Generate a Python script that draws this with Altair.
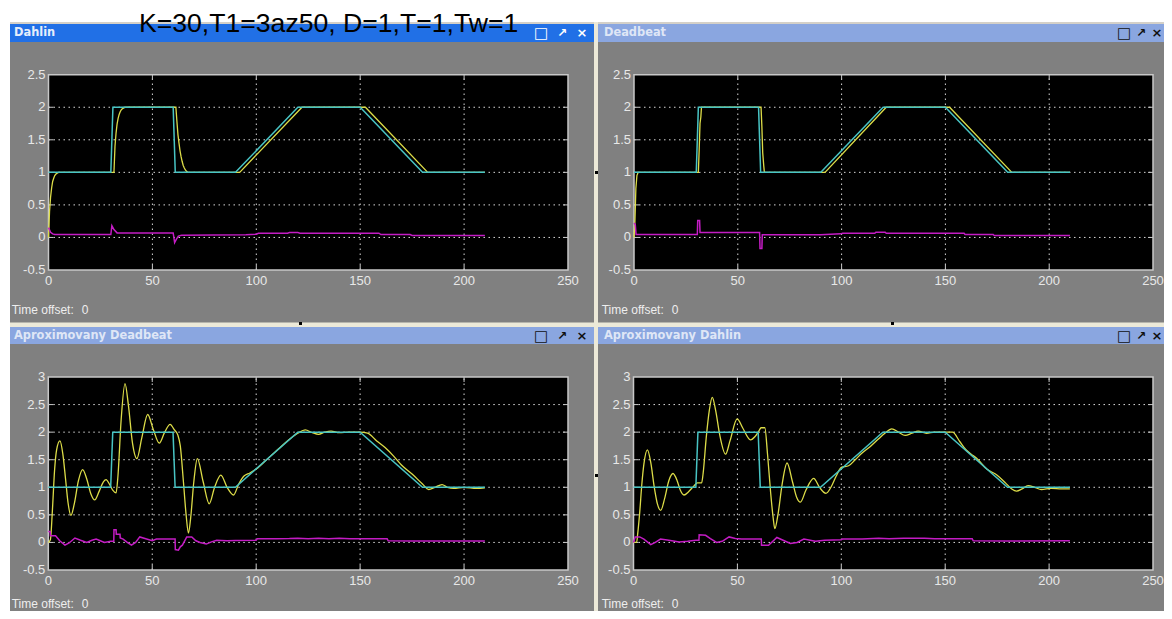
import altair as alt
import pandas as pd

# ---------------- text ----------------
MAIN_TITLE = "K=30,T1=3az50, D=1,T=1,Tw=1"
PANEL_TITLES = ["Dahlin", "Deadbeat", "Aproximovany Deadbeat", "Aproximovany Dahlin"]
TIME_OFFSET_LABEL = "Time offset:"
TIME_OFFSET_VALUE = "0"

# ---------------- ticks ----------------
X_TICKS = [0, 50, 100, 150, 200, 250]
X_LABELS = ["0", "50", "100", "150", "200", "250"]
Y_TICKS_TOP = [-0.5, 0, 0.5, 1, 1.5, 2, 2.5]
Y_LABELS_TOP = ["-0.5", "0", "0.5", "1", "1.5", "2", "2.5"]
Y_TICKS_BOT = [-0.5, 0, 0.5, 1, 1.5, 2, 2.5, 3]
Y_LABELS_BOT = ["-0.5", "0", "0.5", "1", "1.5", "2", "2.5", "3"]

# ---------------- setpoint (cyan), same in all scopes ----------------
W_T = [0, 30, 31, 60, 61, 90, 120, 150, 180, 210]
W_V = [1, 1, 2, 2, 1, 1, 2, 2, 1, 1]

# ---------------- Dahlin ----------------
DAHLIN_Y_T = [0, 0.5, 1, 1.5, 2, 2.5, 3, 3.5, 4, 4.5, 5,
              31.5, 32, 32.5, 33, 33.5, 34, 34.5, 35, 35.5, 36, 36.5, 37,
              61.3, 61.8, 62.3, 62.8, 63.3, 63.8, 64.3, 64.8, 65.3, 65.8, 66.3, 67,
              92, 122, 152.5, 182.5, 210]
DAHLIN_Y_V = [0, 0.4, 0.62, 0.76, 0.86, 0.91, 0.95, 0.97, 0.985, 0.995, 1,
              1, 1.4, 1.6, 1.74, 1.83, 1.89, 1.93, 1.96, 1.975, 1.985, 1.995, 2,
              2, 1.78, 1.58, 1.45, 1.33, 1.24, 1.17, 1.11, 1.07, 1.04, 1.02, 1,
              1, 2, 2, 1, 1]
DAHLIN_U_T = [0, 1, 2, 3, 30, 30.5, 31.5, 33, 60, 60.7, 61.5, 62.5, 64, 95, 100, 101,
              115, 116, 120, 121, 150, 159, 160, 174, 175, 210]
DAHLIN_U_V = [0.15, 0.08, 0.055, 0.045, 0.045, 0.18, 0.12, 0.07, 0.07, -0.08, -0.03, 0.02, 0.035,
              0.04, 0.05, 0.065, 0.065, 0.075, 0.075, 0.065, 0.065, 0.065, 0.045, 0.045, 0.03, 0.03]

# ---------------- Deadbeat ----------------
DEADBEAT_Y_T = [0, 0.4, 0.9, 1.4, 2, 31, 31.4, 31.8, 32.2, 32.5, 61.2, 61.6, 62, 62.5, 62.8,
                92, 121.5, 152, 182, 210]
DEADBEAT_Y_V = [0, 0.2, 0.75, 0.95, 1, 1, 1.35, 1.75, 1.85, 2, 2, 1.7, 1.3, 1.1, 1,
                1, 2, 2, 1, 1]
DEADBEAT_U_T = [0, 0.6, 1.0, 30.5, 30.7, 31.6, 31.8, 60.5, 60.7, 61.6, 61.8, 90, 99.5, 100.5,
                116, 116.5, 121, 121.5, 159, 159.5, 173, 173.5, 210]
DEADBEAT_U_V = [0.22, 0.2, 0.045, 0.045, 0.26, 0.26, 0.077, 0.077, -0.17, -0.17, 0.04, 0.04, 0.055, 0.065,
                0.065, 0.08, 0.08, 0.065, 0.065, 0.045, 0.045, 0.03, 0.03]

# ---------------- Aproximovany Deadbeat ----------------
AD_Y_T = [0, 1, 2, 3, 4, 5.6, 7, 8.3, 9.5, 10.9, 12.5, 14.5, 16.5, 18.5, 20.5, 22.3, 24.5, 26.5,
          27.8, 29.5, 31, 32.6, 33.5, 35, 36.9, 38.5, 40.5, 42.6, 45, 47.8, 50.5, 53.4, 56, 58.6,
          60.5, 62.3, 63.5, 65, 66.3, 67.4, 68.5, 70, 71.7, 74.5, 77.4, 80, 83, 86, 89.1, 91.5,
          94, 97, 100, 105, 110, 115, 120, 123.6, 127, 130, 133, 136, 140, 145, 150, 153.6, 158,
          162, 166, 170, 175, 180, 183, 186, 189.4, 192, 195, 200, 206, 210]
AD_Y_V = [0, 0.05, 0.6, 1.3, 1.68, 1.84, 1.6, 1.15, 0.72, 0.49, 0.7, 1.12, 1.32, 1.15, 0.88, 0.77, 0.93, 1.1,
          1.14, 1.05, 0.95, 0.9, 1.2, 2.2, 2.88, 2.5, 1.8, 1.52, 1.9, 2.32, 2.05, 1.8, 2.0, 2.14,
          2.05, 1.95, 1.75, 1.1, 0.5, 0.17, 0.45, 1.1, 1.52, 1.1, 0.7, 1.0, 1.22, 1.0, 0.86, 1.05,
          1.2, 1.26, 1.33, 1.5, 1.67, 1.84, 1.98, 2.04, 1.99, 1.96, 2.0, 2.02, 1.99, 2.0, 2.0, 1.98, 1.84,
          1.72, 1.57, 1.4, 1.24, 1.06, 0.96, 1.0, 1.05, 1.0, 0.98, 1.0, 0.98, 0.99]
AD_U_T = [0, 0.9, 1, 3.5, 4, 5.5, 8, 10, 12.8, 15.5, 18.5, 21, 23, 25, 27, 30, 31.5, 31.6, 32.6,
          32.7, 34.5, 34.6, 36, 38, 40, 42, 44, 46.5, 50, 52, 61, 61.1, 62.6, 63.5, 64.5, 66.6, 69,
          71, 73, 76, 78.5, 81, 86, 90, 100, 100.5, 110, 116, 120, 125, 130, 135, 140, 145, 163,
          163.5, 175, 190, 210]
AD_U_V = [0.2, 0.2, 0.12, 0.12, 0.1, 0.03, -0.05, -0.01, 0.08, 0.04, 0.0, 0.04, 0.06, 0.03, 0.0, 0.02, 0.02, 0.23, 0.23,
          0.15, 0.15, 0.08, 0.06, 0.0, -0.05, 0.0, 0.1, 0.07, 0.03, 0.06, 0.06, -0.13, -0.14, -0.08, -0.05, 0.1, 0.1,
          0.03, 0.0, -0.03, 0.01, 0.04, 0.03, 0.035, 0.04, 0.065, 0.068, 0.07, 0.078, 0.065, 0.075, 0.068, 0.078, 0.066, 0.066,
          0.03, 0.025, 0.028, 0.028]

# ---------------- Aproximovany Dahlin ----------------
ADH_Y_T = [0, 1.5, 2, 3, 4, 5, 6.7, 8.3, 10, 11.5, 13.1, 15, 17, 19, 21, 22.5, 24.3, 26.5, 28.5, 30,
           30.7, 32.8, 33.5, 35, 36.5, 37.9, 39.5, 41.5, 44.3, 46.5, 49.9, 52.5, 56.3, 58.5, 60.3,
           61.4, 63.2, 64.5, 66, 67.2, 68, 69.5, 71.5, 73.9, 76.5, 78.5, 80.3, 83, 86.7, 89.5, 92.6,
           95, 97.5, 100, 103.5, 106.7, 110, 114, 118, 121, 124.3, 127.5, 130.7, 134, 137, 141, 145,
           150, 153.5, 157, 160, 162.5, 165, 170, 175, 179, 182, 184.3, 187, 189.9, 193, 196.3, 201,
           206, 210]
ADH_Y_V = [0, 0, 0.15, 0.55, 1.05, 1.42, 1.68, 1.45, 1.0, 0.7, 0.58, 0.8, 1.12, 1.25, 1.12, 0.95, 0.86, 0.92, 1.0, 1.06,
           1.08, 1.08, 1.25, 1.9, 2.4, 2.63, 2.4, 1.95, 1.6, 1.85, 2.24, 2.08, 1.86, 1.92, 2.02,
           2.08, 2.08, 1.6, 0.9, 0.45, 0.25, 0.5, 1.05, 1.44, 1.1, 0.82, 0.73, 0.95, 1.16, 1.0, 0.89,
           1.0, 1.2, 1.36, 1.39, 1.5, 1.62, 1.74, 1.88, 1.98, 2.06, 2.0, 1.94, 1.98, 2.02, 1.98, 2.0,
           2.0, 2.0, 1.83, 1.68, 1.6, 1.53, 1.33, 1.22, 1.08, 0.97, 0.93, 0.97, 1.03, 1.0, 0.96, 0.98,
           0.97, 0.97]
ADH_U_T = [0, 0.8, 3, 5, 8.3, 10.5, 13, 17, 22, 26, 30, 31.5, 31.6, 34.7, 37, 40, 42.7, 46, 49, 52,
           61.5, 61.6, 65, 69, 72, 75.5, 78.7, 82, 87.5, 92, 100, 100.5, 110, 118, 123, 130, 140, 145,
           163, 163.5, 180, 210]
ADH_U_V = [0.0, 0.1, 0.1, 0.06, -0.04, 0.0, 0.06, 0.04, 0.01, 0.02, 0.04, 0.04, 0.14, 0.13, 0.07, 0.0, 0.02, 0.1, 0.07, 0.06,
           0.06, -0.05, -0.05, 0.09, 0.04, -0.02, 0.0, 0.06, 0.02, 0.04, 0.05, 0.06, 0.06, 0.075, 0.065, 0.075, 0.075, 0.065,
           0.065, 0.03, 0.025, 0.03]

# ---------------- style ----------------
YELLOW = "#dcdc48"
MAGENTA = "#c41cc4"
CYAN = "#48c4c4"
FRAME = "#c8c8c8"
GRID = "#d8d8d8"
LABEL = "#e8e8e8"
NARROW = "Liberation Sans Narrow, Liberation Sans, Arial, sans-serif"

W, H = 1156, 603


def sdf(t, v):
    return pd.DataFrame({"t": t, "v": v, "i": list(range(len(t)))})


def make_panel(xr, yr, ydom, yticks, ylabels, yt, yv, mt, mv, smooth):
    xs = alt.Scale(domain=[0, 250], range=xr, nice=False, zero=False)
    ys = alt.Scale(domain=ydom, range=yr, nice=False, zero=False)

    def ex(f):
        return alt.X(f, type="quantitative", scale=xs, axis=None)

    def ey(f):
        return alt.Y(f, type="quantitative", scale=ys, axis=None)

    frame = alt.Chart(pd.DataFrame({"x0": [0], "x1": [250], "y0": [ydom[0]], "y1": [ydom[1]]})).mark_rect(
        fill="#000000", stroke=FRAME, strokeWidth=1.5
    ).encode(x=ex("x0"), x2="x1:Q", y=ey("y0"), y2="y1:Q")

    inner_x = X_TICKS[1:-1]
    inner_y = yticks[1:-1]
    gridv = alt.Chart(pd.DataFrame({"x": inner_x, "y0": ydom[0], "y1": ydom[1]})).mark_rule(
        color=GRID, strokeDash=[1.5, 3.5], strokeWidth=1
    ).encode(x=ex("x"), y=ey("y0"), y2="y1:Q")
    gridh = alt.Chart(pd.DataFrame({"y": inner_y, "x0": 0, "x1": 250})).mark_rule(
        color=GRID, strokeDash=[1.5, 3.5], strokeWidth=1
    ).encode(y=ey("y"), x=ex("x0"), x2="x1:Q")

    tk_top = alt.Chart(pd.DataFrame({"x": inner_x, "y": ydom[1]})).mark_tick(
        orient="vertical", size=5, thickness=1, yOffset=2.5, color=FRAME, opacity=1
    ).encode(x=ex("x"), y=ey("y"))
    tk_bot = alt.Chart(pd.DataFrame({"x": inner_x, "y": ydom[0]})).mark_tick(
        orient="vertical", size=5, thickness=1, yOffset=-2.5, color=FRAME, opacity=1
    ).encode(x=ex("x"), y=ey("y"))
    tk_left = alt.Chart(pd.DataFrame({"y": inner_y, "x": 0})).mark_tick(
        orient="horizontal", size=5, thickness=1, xOffset=2.5, color=FRAME, opacity=1
    ).encode(x=ex("x"), y=ey("y"))
    tk_right = alt.Chart(pd.DataFrame({"y": inner_y, "x": 250})).mark_tick(
        orient="horizontal", size=5, thickness=1, xOffset=-2.5, color=FRAME, opacity=1
    ).encode(x=ex("x"), y=ey("y"))

    yel = alt.Chart(sdf(yt, yv)).mark_line(
        color=YELLOW, strokeWidth=1.3, interpolate=("monotone" if smooth else "linear")
    ).encode(x=ex("t"), y=ey("v"), order="i:Q")
    mag = alt.Chart(sdf(mt, mv)).mark_line(color=MAGENTA, strokeWidth=1.5).encode(
        x=ex("t"), y=ey("v"), order="i:Q")
    cya = alt.Chart(sdf(W_T, W_V)).mark_line(color=CYAN, strokeWidth=1.5).encode(
        x=ex("t"), y=ey("v"), order="i:Q")

    xl = alt.Chart(pd.DataFrame({"x": X_TICKS, "y": ydom[0], "label": X_LABELS})).mark_text(
        dy=11, align="center", baseline="middle", font=NARROW, fontSize=13, color=LABEL
    ).encode(x=ex("x"), y=ey("y"), text="label:N")
    yl = alt.Chart(pd.DataFrame({"y": yticks, "x": 0, "label": ylabels})).mark_text(
        dx=-3, align="right", baseline="middle", font=NARROW, fontSize=13, color=LABEL
    ).encode(x=ex("x"), y=ey("y"), text="label:N")

    return alt.layer(frame, gridv, gridh, tk_top, tk_bot, tk_left, tk_right, yel, mag, cya, xl, yl)


p1 = make_panel([40.5, 560], [262, 66.7], [-0.5, 2.5], Y_TICKS_TOP, Y_LABELS_TOP,
                DAHLIN_Y_T, DAHLIN_Y_V, DAHLIN_U_T, DAHLIN_U_V, False)
p2 = make_panel([626, 1145], [262, 66.7], [-0.5, 2.5], Y_TICKS_TOP, Y_LABELS_TOP,
                DEADBEAT_Y_T, DEADBEAT_Y_V, DEADBEAT_U_T, DEADBEAT_U_V, False)
p3 = make_panel([40.3, 560], [562, 369], [-0.5, 3], Y_TICKS_BOT, Y_LABELS_BOT,
                AD_Y_T, AD_Y_V, AD_U_T, AD_U_V, True)
p4 = make_panel([625.5, 1145], [562, 369], [-0.5, 3], Y_TICKS_BOT, Y_LABELS_BOT,
                ADH_Y_T, ADH_Y_V, ADH_U_T, ADH_U_V, True)

# ---------------- window decorations (pixel layout) ----------------
DECO_X = [0, 0, 2, 2, 590, 586, 2, 2, 590, 291, 883, 587, 587]
DECO_X2 = [W, 2, W, 586, W, 590, W, 586, W, 294, 886, 590, 590]
DECO_Y = [0, 0, 14, 16, 16, 14, 314.5, 319, 319, 314, 314, 163, 466]
DECO_Y2 = [14, H, 16, 34, 34, H, 319, 336, 336, 317, 317, 166, 469]
DECO_FILL = ["#ffffff", "#ffffff", "#d4d0c8", "#2170e6", "#8aa6e0", "#ece9d8", "#ece9d8",
             "#8aa6e0", "#8aa6e0", "#000000", "#000000", "#000000", "#000000"]
deco = pd.DataFrame({"x": DECO_X, "x2": DECO_X2, "y": DECO_Y, "y2": DECO_Y2, "fill": DECO_FILL})
rects = alt.Chart(deco).mark_rect(strokeWidth=0).encode(
    x=alt.X("x:Q", scale=None, axis=None), x2="x2:Q",
    y=alt.Y("y:Q", scale=None, axis=None), y2="y2:Q",
    fill=alt.Fill("fill:N", scale=None),
)

tt = pd.DataFrame({
    "x": [6, 596, 6, 596],
    "y": [25, 25, 327.5, 327.5],
    "text": PANEL_TITLES,
    "c": ["#e6eefb", "#dfe6f6", "#dfe6f6", "#dfe6f6"],
})
titles = alt.Chart(tt).mark_text(
    align="left", baseline="middle", font="DejaVu Sans", fontSize=11.4, fontWeight="bold"
).encode(x=alt.X("x:Q", scale=None, axis=None), y=alt.Y("y:Q", scale=None, axis=None),
         text="text:N", color=alt.Color("c:N", scale=None))

BTN_GLYPH = ["\u25a1", "\u2197", "\u00d7"] * 4
BTN_X = [533, 554, 574, 1116, 1133, 1149, 533, 554, 574, 1116, 1133, 1149]
BTN_Y = [25] * 6 + [327.5] * 6
BTN_C = ["#ffffff"] * 3 + ["#101010"] * 9
BTN_S = [15, 12, 13] * 4
buttons = alt.Chart(pd.DataFrame({"x": BTN_X, "y": BTN_Y, "text": BTN_GLYPH, "c": BTN_C, "s": BTN_S})).mark_text(
    align="center", baseline="middle", font="DejaVu Sans", fontWeight="bold"
).encode(x=alt.X("x:Q", scale=None, axis=None), y=alt.Y("y:Q", scale=None, axis=None),
         text="text:N", color=alt.Color("c:N", scale=None), size=alt.Size("s:Q", scale=None))

TO_X = [3.7, 73.7, 593.7, 663.7, 3.7, 73.7, 593.7, 663.7]
TO_Y = [301.5] * 4 + [596] * 4
TO_TEXT = [TIME_OFFSET_LABEL, TIME_OFFSET_VALUE] * 4
toff = alt.Chart(pd.DataFrame({"x": TO_X, "y": TO_Y, "text": TO_TEXT})).mark_text(
    align="left", baseline="middle", font=NARROW, fontSize=12, color="#eeeeee"
).encode(x=alt.X("x:Q", scale=None, axis=None), y=alt.Y("y:Q", scale=None, axis=None), text="text:N")

main = alt.Chart(pd.DataFrame({"x": [131], "y": [23.7], "text": [MAIN_TITLE]})).mark_text(
    align="left", baseline="alphabetic", font="Liberation Sans, Arial, sans-serif", fontSize=26.6, color="#000000"
).encode(x=alt.X("x:Q", scale=None, axis=None), y=alt.Y("y:Q", scale=None, axis=None), text="text:N")

chart = alt.layer(rects, p1, p2, p3, p4, titles, buttons, toff, main).resolve_scale(
    x="independent", y="independent"
).properties(
    width=W, height=H, padding=0,
    autosize=alt.AutoSizeParams(type="none", contains="padding"),
    background="#808080",
).configure_view(strokeWidth=0)

chart.save("out.html", embed_options={"renderer": "svg", "actions": False})
